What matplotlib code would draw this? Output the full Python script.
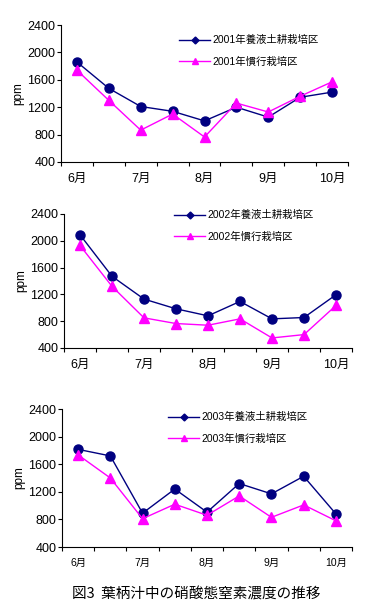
import matplotlib
matplotlib.use("Agg")
import matplotlib.pyplot as plt
from matplotlib.lines import Line2D
import numpy as np

plt.rcParams['font.family'] = ['Liberation Sans', 'Noto Sans CJK JP', 'DejaVu Sans']

# データ (ppm)
months = ['6月', '7月', '8月', '9月', '10月']
n_points = 9

blue_2001 = [1860, 1475, 1210, 1140, 1000, 1200, 1055, 1345, 1420]
pink_2001 = [1740, 1300, 865, 1100, 765, 1260, 1130, 1360, 1570]
blue_2002 = [2090, 1470, 1130, 985, 880, 1095, 835, 855, 1195]
pink_2002 = [1930, 1320, 850, 765, 740, 835, 550, 600, 1035]
blue_2003 = [1815, 1720, 890, 1240, 905, 1320, 1170, 1425, 880]
pink_2003 = [1735, 1400, 810, 1020, 860, 1140, 830, 1010, 780]

years = ['2001', '2002', '2003']
blues = [blue_2001, blue_2002, blue_2003]
pinks = [pink_2001, pink_2002, pink_2003]

W, H = 369, 614
# パネル位置 (px): left, right, top, bottom
boxes = [(61, 348, 25, 162), (64, 352, 214, 348), (62, 352, 409, 547)]
legend_pos = [(174, 30), (169, 205), (163, 407)]

fig = plt.figure(figsize=(W / 100, H / 100), dpi=100)

navy = '#000080'
mag = '#FF00FF'

for i in range(3):
    l, r, t, b = boxes[i]
    ax = fig.add_axes([l / W, (H - b) / H, (r - l) / W, (b - t) / H])
    x = np.arange(n_points)
    ax.plot(x, blues[i], color=navy, lw=1, marker='o', ms=6.5, mfc=navy, mec=navy)
    ax.plot(x, pinks[i], color=mag, lw=1, marker='^', ms=7.5, mfc=mag, mec=mag)
    ax.set_xlim(-0.5, n_points - 0.5)
    ax.set_ylim(400, 2400)
    ax.set_yticks(np.arange(400, 2401, 400))
    ax.set_xticks(np.arange(0, n_points, 2))
    ax.set_xticks(np.arange(-0.5, n_points, 1), minor=True)
    xfs = 9 if i < 2 else 7.5
    ax.set_xticklabels(months, fontsize=xfs)
    ax.tick_params(axis='x', which='major', length=0, pad=8)
    ax.tick_params(axis='x', which='minor', length=3, width=0.8, direction='out')
    ax.tick_params(axis='y', length=3, width=0.8, direction='out', labelsize=9, pad=1)
    for s in ['top', 'right']:
        ax.spines[s].set_visible(False)
    for s in ['left', 'bottom']:
        ax.spines[s].set_linewidth(0.8)
    ax.set_ylabel('ppm', fontsize=8.5, labelpad=2)

    handles = [
        Line2D([], [], color=navy, lw=1, marker='D', ms=3.5, mfc=navy, mec=navy),
        Line2D([], [], color=mag, lw=1, marker='^', ms=5, mfc=mag, mec=mag),
    ]
    labels = [years[i] + '年養液土耕栽培区', years[i] + '年慣行栽培区']
    lx, ly = legend_pos[i]
    ax.legend(handles, labels, loc='upper left', bbox_to_anchor=(lx / W, 1 - ly / H),
              bbox_transform=fig.transFigure, frameon=False, fontsize=7.5,
              handlelength=3.0, handletextpad=0.2, labelspacing=1.1, borderpad=0)

fig.text(196 / W, 1 - 595 / H, '図3  葉柄汁中の硝酸態窒素濃度の推移', ha='center', va='center',
         fontsize=10.5, family=['Noto Sans CJK JP', 'DejaVu Sans'])

fig.savefig('out.png', dpi=100)
